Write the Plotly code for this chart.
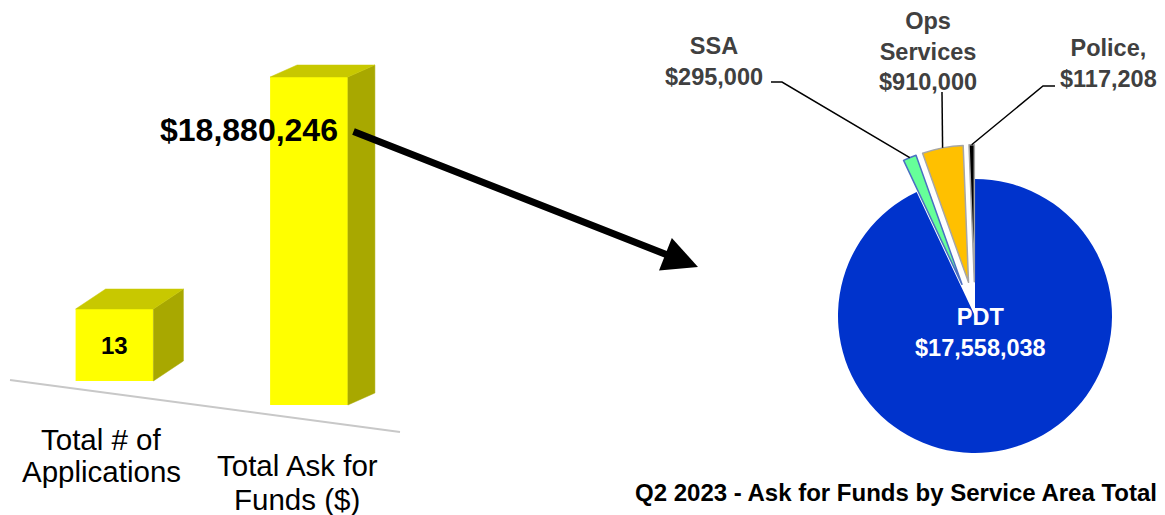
import math
import plotly.graph_objects as go

# ---------------- data ----------------
bar_categories = ["Total # of<br>Applications", "Total Ask for<br>Funds ($)"]
bar_values = [13, 18880246]
bar_value_labels = ["13", "$18,880,246"]

pie_labels = ["PDT", "SSA", "Ops Services", "Police"]
pie_values = [17558038, 295000, 910000, 117208]
pie_text = ["PDT<br>$17,558,038", "SSA<br>$295,000", "Ops<br>Services<br>$910,000", "Police,<br>$117,208"]
pie_colors = ["#0033CC", "#66FF99", "#FFC000", "#000000"]
pie_line_colors = ["#0033CC", "#4A6FC2", "#A6A6A6", "#A6A6A6"]
pie_pull = [0, 0.25, 0.25, 0.25]

chart_title = "Q2 2023 - Ask for Funds by Service Area Total"

# ---------------- layout constants (pixels) ----------------
W, H = 1165, 515
FONT = "Liberation Sans, Arial, sans-serif"

# bar area
PX_PER_X = 194.5          # pixels per category step
X0_PX = 114.5             # pixel of category 0
X_RANGE = [-0.55, 1.55]
YT, YB = 40, 430          # plot area top / bottom pixels
ZERO_PX = [381, 405]      # pixel of zero for each bar's axis
BAR_PX_H = [72, 328]      # drawn height of each bar
BAR_W = 0.4
DEPTH_PX = [(30, 20), (27, 12)]   # (dx, dy) of the 3-D depth for each bar

# pie geometry
PIE_CX, PIE_CY, PIE_R = 975, 316, 137

def px_x(px):
    return px / W

def px_y(py):
    return 1 - py / H

xl_px = X0_PX + X_RANGE[0] * PX_PER_X
xr_px = X0_PX + X_RANGE[1] * PX_PER_X

fig = go.Figure()

axis_names = ["y", "y2"]
scales = [BAR_PX_H[i] / bar_values[i] for i in range(2)]
y_ranges = [[(ZERO_PX[i] - YB) / scales[i], (ZERO_PX[i] - YT) / scales[i]] for i in range(2)]

front = "#FFFF00"
top_col = "#C8C800"
side_col = "#A8A800"

for i, v in enumerate(bar_values):
    c = i
    x0, x1 = c - BAR_W / 2, c + BAR_W / 2
    dx = DEPTH_PX[i][0] / PX_PER_X
    dy = DEPTH_PX[i][1] / scales[i]
    # side face
    fig.add_trace(go.Scatter(
        x=[x1, x1 + dx, x1 + dx, x1, x1], y=[0, dy, v + dy, v, 0],
        fill="toself", fillcolor=side_col, mode="lines",
        line=dict(color=side_col, width=0.5), yaxis=axis_names[i],
        hoverinfo="skip", showlegend=False))
    # top face
    fig.add_trace(go.Scatter(
        x=[x0, x1, x1 + dx, x0 + dx, x0], y=[v, v, v + dy, v + dy, v],
        fill="toself", fillcolor=top_col, mode="lines",
        line=dict(color=top_col, width=0.5), yaxis=axis_names[i],
        hoverinfo="skip", showlegend=False))
    # front face
    fig.add_trace(go.Bar(
        x=[c], y=[v], width=BAR_W, marker=dict(color=front, line=dict(width=0)),
        yaxis=axis_names[i], hoverinfo="skip", showlegend=False))

# pie
max_pull = max(pie_pull)
half_box = PIE_R * (1 + max_pull)
fig.add_trace(go.Pie(
    labels=pie_labels, values=pie_values, sort=False, direction="clockwise",
    rotation=0, pull=pie_pull, textinfo="none",
    marker=dict(colors=pie_colors, line=dict(color=pie_line_colors, width=[0, 1.5, 1.5, 1.5])),
    domain=dict(x=[px_x(PIE_CX - half_box), px_x(PIE_CX + half_box)],
                y=[px_y(PIE_CY + half_box), px_y(PIE_CY - half_box)]),
    showlegend=False, hoverinfo="label+value"))

# leader-line tips from data
total = sum(pie_values)
tips = []
cum = 0
for i, v in enumerate(pie_values):
    theta = 2 * math.pi * (cum + v / 2) / total
    rr = PIE_R * (1 + pie_pull[i])
    tips.append((PIE_CX + rr * math.sin(theta), PIE_CY - rr * math.cos(theta)))
    cum += v

label_pos = {1: (714, 61), 2: (928, 51), 3: (1108, 64)}
leader_start = {1: [(771, 82), (782, 82)], 2: [(942, 92)], 3: [(1055, 86), (1043, 86)]}

shapes = []
# floor line
shapes.append(dict(type="line", xref="paper", yref="paper",
                   x0=px_x(10), y0=px_y(380), x1=px_x(400), y1=px_y(432),
                   line=dict(color="#C8C8C8", width=2), layer="below"))
for i in (1, 2, 3):
    pts = leader_start[i] + [tips[i]]
    path = "M " + " L ".join(f"{px_x(a):.5f},{px_y(b):.5f}" for a, b in pts)
    shapes.append(dict(type="path", xref="paper", yref="paper", path=path,
                       line=dict(color="black", width=1.5)))

annotations = []
# category labels (one annotation per line for tighter line spacing)
cat_line_y = [[439, 471], [465, 499]]
cat_xshift = [-13, -12]
for i, cat in enumerate(bar_categories):
    for j, line in enumerate(cat.split("<br>")):
        annotations.append(dict(x=i, xref="x", y=px_y(cat_line_y[i][j]), yref="paper",
                                xshift=cat_xshift[i],
                                text=line, showarrow=False, xanchor="center", yanchor="middle",
                                font=dict(family=FONT, size=29.5, color="black")))
# value labels
annotations.append(dict(x=0, xref="x", y=bar_values[0] / 2, yref="y",
                        text=bar_value_labels[0], showarrow=False,
                        xanchor="center", yanchor="middle",
                        font=dict(family=FONT, size=24, color="black", weight="bold")))
annotations.append(dict(x=px_x(249), xref="paper", y=px_y(130), yref="paper",
                        text=bar_value_labels[1], showarrow=False,
                        xanchor="center", yanchor="middle",
                        font=dict(family=FONT, size=32, color="black", weight="bold")))
# arrow
annotations.append(dict(x=px_x(698), y=px_y(267), xref="paper", yref="paper",
                        ax=352 - 698, ay=131 - 267, axref="pixel", ayref="pixel",
                        text="", showarrow=True, arrowhead=2, arrowsize=1.0,
                        arrowwidth=7, arrowcolor="black", standoff=0, startstandoff=0))
# pie labels
for i, (lx, ly) in label_pos.items():
    annotations.append(dict(x=px_x(lx), y=px_y(ly), xref="paper", yref="paper",
                            text=pie_text[i], showarrow=False, xanchor="center", yanchor="middle",
                            font=dict(family=FONT, size=23.5, color="#404040", weight="bold")))
annotations.append(dict(x=px_x(980), y=px_y(332), xref="paper", yref="paper",
                        text=pie_text[0], showarrow=False, xanchor="center", yanchor="middle",
                        font=dict(family=FONT, size=23.5, color="white", weight="bold")))
# title
annotations.append(dict(x=px_x(633), y=px_y(492), xref="paper", yref="paper",
                        text=chart_title, showarrow=False, xanchor="left", yanchor="middle",
                        font=dict(family=FONT, size=24, color="black", weight="bold")))

fig.update_layout(
    width=W, height=H, margin=dict(l=0, r=0, t=0, b=0),
    paper_bgcolor="white", plot_bgcolor="rgba(0,0,0,0)",
    barmode="overlay", showlegend=False,
    xaxis=dict(domain=[px_x(xl_px), px_x(xr_px)], range=X_RANGE, visible=False, fixedrange=True),
    yaxis=dict(domain=[px_y(YB), px_y(YT)], range=y_ranges[0], visible=False),
    yaxis2=dict(domain=[px_y(YB), px_y(YT)], range=y_ranges[1], visible=False,
                overlaying="y"),
    shapes=shapes, annotations=annotations,
)

fig.write_html("out.html", config={"displayModeBar": False},
               post_script="document.body.style.margin='0px';document.body.style.overflow='hidden';")
